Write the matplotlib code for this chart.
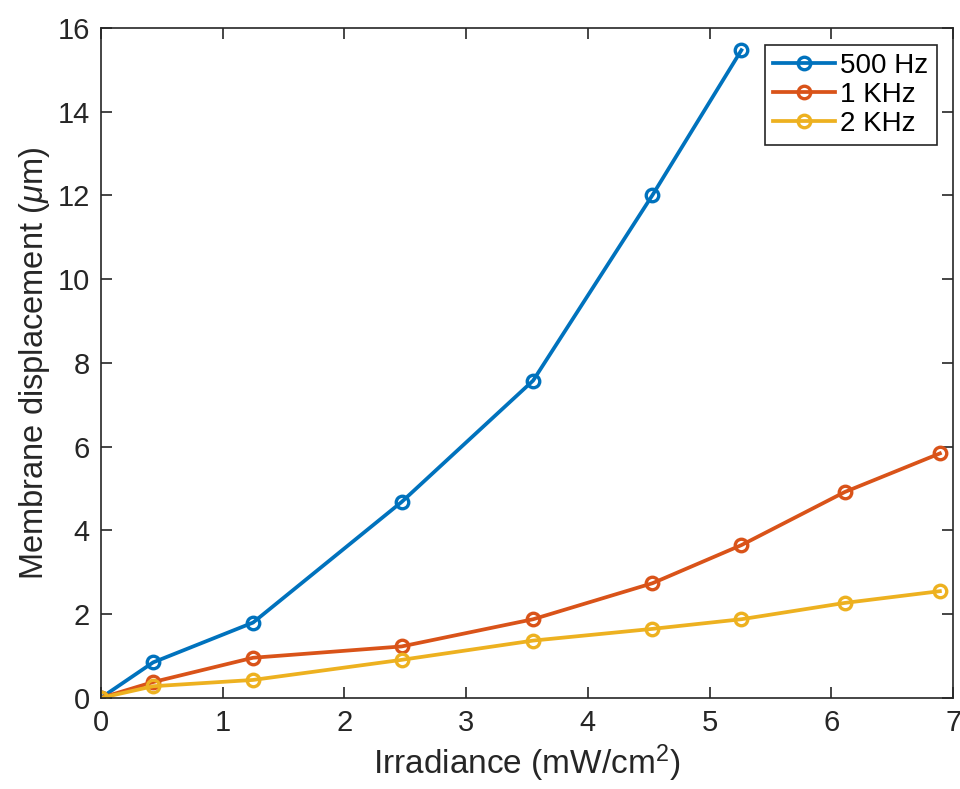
import matplotlib
matplotlib.use('Agg')
import matplotlib.pyplot as plt

plt.rcParams['font.family'] = ['Liberation Sans', 'DejaVu Sans']
plt.rcParams['mathtext.fontset'] = 'custom'
plt.rcParams['mathtext.it'] = 'Liberation Sans:italic'
plt.rcParams['mathtext.rm'] = 'Liberation Sans'

# Data
irr_500 = [0, 0.43, 1.25, 2.47, 3.55, 4.53, 5.26]
disp_500 = [0, 0.85, 1.80, 4.68, 7.58, 12.01, 15.47]

irr_1k = [0, 0.43, 1.25, 2.47, 3.55, 4.53, 5.26, 6.11, 6.89]
disp_1k = [0, 0.38, 0.96, 1.23, 1.88, 2.74, 3.65, 4.92, 5.84]

irr_2k = [0, 0.43, 1.25, 2.47, 3.55, 4.53, 5.26, 6.11, 6.89]
disp_2k = [0, 0.28, 0.43, 0.91, 1.37, 1.65, 1.88, 2.27, 2.55]

labels = ['500 Hz', '1 KHz', '2 KHz']
colors = ['#0072BD', '#D95319', '#EDB120']

fig = plt.figure(figsize=(9.6, 7.89), dpi=100)
ax = fig.add_axes([0.105, 0.1154, 0.888, 0.8491])

for xs, ys, lab, col in zip([irr_500, irr_1k, irr_2k],
                            [disp_500, disp_1k, disp_2k], labels, colors):
    ax.plot(xs, ys, color=col, linewidth=2.7, marker='o', markersize=9,
            markerfacecolor='none', markeredgewidth=2.4, label=lab)

ax.set_xlim(0, 7)
ax.set_ylim(0, 16)
ax.set_xticks(range(0, 8))
ax.set_yticks(range(0, 17, 2))
ax.tick_params(direction='in', length=8, width=1.2, labelsize=21,
               top=True, right=True, pad=8, colors='#262626')
for s in ax.spines.values():
    s.set_linewidth(1.2)
    s.set_color('#262626')

ax.set_xlabel('Irradiance (mW/cm$^2$)', fontsize=24, color='#262626')
ax.set_ylabel('Membrane displacement ($\\mu$m)', fontsize=23.5, color='#262626')

leg = ax.legend(loc='upper right', fontsize=20, fancybox=False, framealpha=1,
                edgecolor='#262626', handlelength=2.2, borderpad=0.3,
                labelspacing=0.1, handletextpad=0.2, borderaxespad=0.6)
leg.get_frame().set_linewidth(1.2)

fig.savefig('out.png', dpi=100)
